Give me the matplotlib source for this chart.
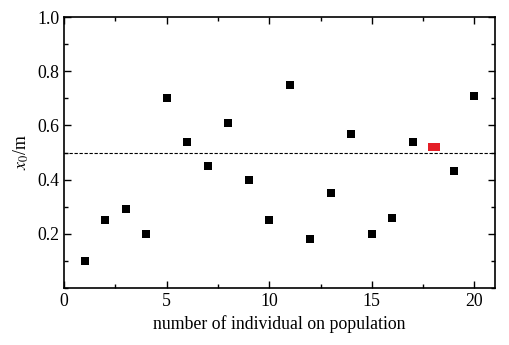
import matplotlib
matplotlib.use("Agg")
import matplotlib.pyplot as plt
from matplotlib.ticker import MultipleLocator

plt.rcParams['font.family'] = ['Liberation Serif', 'DejaVu Serif']
plt.rcParams['mathtext.fontset'] = 'stix'

individual = [1, 2, 3, 4, 5, 6, 7, 8, 9, 10, 11, 12, 13, 14, 15, 16, 17, 19, 20]
x0 = [0.10, 0.25, 0.29, 0.20, 0.70, 0.54, 0.45, 0.61, 0.40, 0.25, 0.75, 0.18,
      0.35, 0.57, 0.20, 0.26, 0.54, 0.43, 0.71]
best_individual = [18.05]
best_x0 = [0.52]
threshold = 0.5

fig = plt.figure(figsize=(5.1, 3.45), dpi=100)
ax = fig.add_axes([0.1255, 0.1652, 0.8451, 0.7855])

ax.plot(individual, x0, linestyle='none', marker='s', markersize=5.3,
        color='black', markeredgewidth=0)
rect = [(-1.3, -0.85), (1.3, -0.85), (1.3, 0.85), (-1.3, 0.85), (-1.3, -0.85)]
ax.plot(best_individual, best_x0, linestyle='none', marker=rect, markersize=9.2,
        color='#e41e26', markeredgewidth=0)
ax.axhline(threshold, color='black', linestyle=(0, (3, 1.5)), linewidth=0.8)

ax.set_xlim(0, 21)
ax.set_ylim(0, 1.0)
ax.xaxis.set_major_locator(MultipleLocator(5))
ax.xaxis.set_minor_locator(MultipleLocator(2.5))
ax.yaxis.set_major_locator(MultipleLocator(0.2))
ax.yaxis.set_minor_locator(MultipleLocator(0.1))
ax.set_yticks([0.2, 0.4, 0.6, 0.8, 1.0])
ax.set_yticklabels(['0.2', '0.4', '0.6', '0.8', '1.0'])
ax.tick_params(which='both', direction='in', top=True, right=True, labelsize=12.8, width=1)
ax.tick_params(which='major', length=5)
ax.tick_params(which='minor', length=3)
for s in ax.spines.values():
    s.set_linewidth(1.2)

ax.set_xlabel('number of individual on population', fontsize=12.8)
ax.set_ylabel(r'$x_0$/m', fontsize=12.8)

fig.savefig('out.png', dpi=100)
